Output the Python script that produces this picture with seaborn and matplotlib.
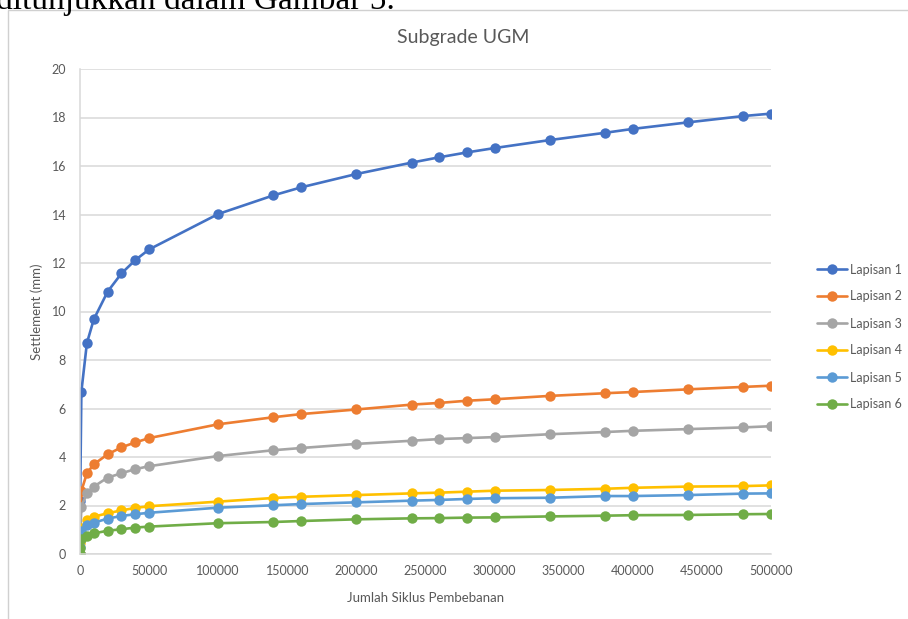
import matplotlib
matplotlib.use("Agg")
import matplotlib.pyplot as plt
from matplotlib.patches import Rectangle
import pandas as pd
import seaborn as sns

# Load cycles (x) and settlement per layer (mm)
cycles = [0, 100, 1000, 5000, 10000, 20000, 30000, 40000, 50000, 100000,
          140000, 160000, 200000, 240000, 260000, 280000, 300000, 340000,
          380000, 400000, 440000, 480000, 500000]

lapisan_1 = [0, 2.2, 6.7, 8.7, 9.68, 10.82, 11.57, 12.12, 12.56, 14.02,
             14.79, 15.12, 15.67, 16.14, 16.36, 16.56, 16.74, 17.07,
             17.37, 17.53, 17.8, 18.06, 18.16]
lapisan_2 = [0, 0.85, 2.6, 3.33, 3.7, 4.11, 4.4, 4.6, 4.78, 5.35,
             5.64, 5.77, 5.96, 6.16, 6.23, 6.32, 6.38, 6.52,
             6.63, 6.68, 6.79, 6.89, 6.94]
lapisan_3 = [0, 0.7, 1.95, 2.5, 2.78, 3.15, 3.33, 3.5, 3.62, 4.04,
             4.28, 4.37, 4.54, 4.67, 4.74, 4.78, 4.82, 4.94,
             5.03, 5.08, 5.15, 5.22, 5.27]
lapisan_4 = [0, 0.45, 1.07, 1.4, 1.54, 1.68, 1.8, 1.9, 1.97, 2.16,
             2.31, 2.36, 2.43, 2.5, 2.53, 2.57, 2.61, 2.64,
             2.69, 2.73, 2.78, 2.8, 2.83]
lapisan_5 = [0, 0.3, 0.93, 1.2, 1.29, 1.46, 1.57, 1.64, 1.7, 1.91,
             2.01, 2.06, 2.13, 2.2, 2.23, 2.27, 2.3, 2.32,
             2.39, 2.39, 2.43, 2.49, 2.5]
lapisan_6 = [0, 0.23, 0.6, 0.76, 0.85, 0.96, 1.02, 1.09, 1.13, 1.27,
             1.32, 1.36, 1.43, 1.47, 1.48, 1.5, 1.51, 1.55,
             1.58, 1.6, 1.61, 1.64, 1.65]

series_names = ["Lapisan 1", "Lapisan 2", "Lapisan 3",
                "Lapisan 4", "Lapisan 5", "Lapisan 6"]
series_values = [lapisan_1, lapisan_2, lapisan_3,
                 lapisan_4, lapisan_5, lapisan_6]
colors = ["#4472C4", "#ED7D31", "#A5A5A5", "#FFC000", "#5B9BD5", "#70AD47"]

x_ticks = [0, 50000, 100000, 150000, 200000, 250000, 300000,
           350000, 400000, 450000, 500000]
y_ticks = [0, 2, 4, 6, 8, 10, 12, 14, 16, 18, 20]

df = pd.concat(
    [pd.DataFrame({"Siklus": cycles, "Settlement": vals, "Lapisan": name})
     for name, vals in zip(series_names, series_values)],
    ignore_index=True,
)

sns.set_theme(style="white")
plt.rcParams["font.family"] = ["Lato", "DejaVu Sans"]

text_grey = "#595959"
grid_grey = "#d9d9d9"

fig = plt.figure(figsize=(9.08, 6.19), dpi=100)
ax = fig.add_axes([80 / 908, 1 - 554 / 619, (771 - 80) / 908, (554 - 69) / 619])

sns.lineplot(
    data=df, x="Siklus", y="Settlement", hue="Lapisan",
    palette=colors, marker="o", markersize=7.5, markeredgewidth=0,
    linewidth=1.9, sort=False, estimator=None, ax=ax,
)

ax.set_xlim(0, 500000)
ax.set_ylim(0, 20)
ax.set_xticks(x_ticks)
ax.set_xticklabels([str(t) for t in x_ticks])
ax.set_yticks(y_ticks)
ax.tick_params(axis="both", length=0, labelsize=9, colors=text_grey)
ax.tick_params(axis="x", pad=8)
ax.tick_params(axis="y", pad=10)
ax.yaxis.grid(True, color=grid_grey, linewidth=1.1)
ax.set_axisbelow(True)
for side in ["top", "right"]:
    ax.spines[side].set_visible(False)
for side in ["left", "bottom"]:
    ax.spines[side].set_color(grid_grey)
    ax.spines[side].set_linewidth(1.1)

ax.set_xlabel("Jumlah Siklus Pembebanan", fontsize=9.5, color=text_grey, labelpad=11)
ax.set_ylabel("Settlement (mm)", fontsize=9.5, color=text_grey, labelpad=6)

fig.text(463 / 908, 1 - 37 / 619, "Subgrade UGM", ha="center", va="center",
         fontsize=14, color=text_grey)

leg = ax.legend(
    loc="center left", bbox_to_anchor=(817 / 908, 1 - 337 / 619),
    bbox_transform=fig.transFigure, frameon=False, fontsize=9,
    handlelength=2.4, handletextpad=0.25, labelspacing=1.2,
    borderaxespad=0, borderpad=0,
)
for txt in leg.get_texts():
    txt.set_color(text_grey)

# Chart frame and the surrounding document line
fig.patches.append(Rectangle((8 / 908, -0.05), 1.2, 1 - 10 / 619 + 0.05,
                             transform=fig.transFigure, fill=False,
                             edgecolor="#d0d0d0", linewidth=1.0))
fig.text(-4 / 908, 1 - 9 / 619, "ditunjukkan dalam Gambar 5.",
         ha="left", va="baseline", fontsize=24, color="black",
         family=["Liberation Serif", "DejaVu Serif"])

fig.savefig("out.png", dpi=100)
